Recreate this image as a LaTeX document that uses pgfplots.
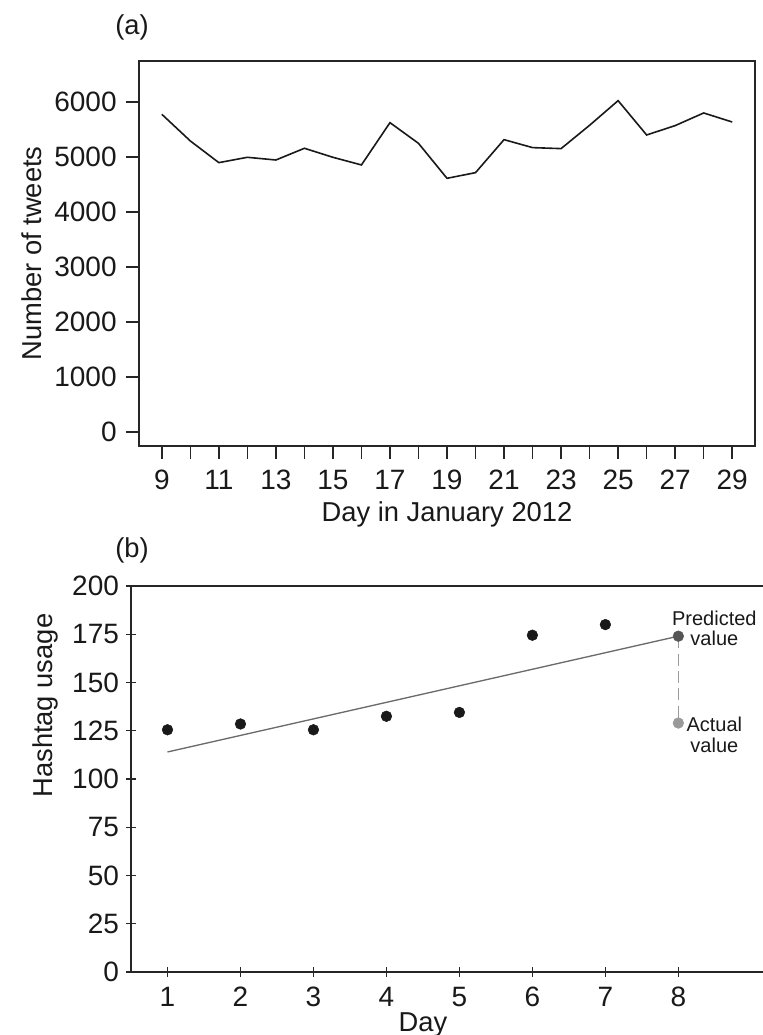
\documentclass[border=0pt]{standalone}
\usepackage{fontspec}
\setmainfont{Liberation Sans}
\usepackage{pgfplots}
\pgfplotsset{compat=1.18}
\definecolor{regline}{HTML}{6B6B6B}
\definecolor{predc}{HTML}{555555}
\definecolor{actc}{HTML}{9A9A9A}
\begin{document}
\begin{tikzpicture}
\path[use as bounding box] (0pt,0pt) rectangle (572.25pt,776.25pt);
\pgfplotsset{
  every axis/.append style={
    scale only axis,
    /pgf/number format/assume math mode=true,
    /pgf/number format/1000 sep={},
    tick label style={font=\fontsize{21}{24}\selectfont, text=black!90},
    label style={font=\fontsize{20.5}{24}\selectfont, text=black!90},
    axis line style={line width=1.1pt, black!85},
    tick style={line width=1.1pt, black!85},
    tick align=outside,
  }
}
% ---------------- panel (a)
\begin{axis}[
  at={(104.25pt,441.75pt)}, anchor=south west,
  width=462pt, height=288.75pt,
  xmin=8.2, xmax=29.8, ymin=-255, ymax=6745,
  xtick={9,...,29},
  xticklabels={9,,11,,13,,15,,17,,19,,21,,23,,25,,27,,29},
  ytick={0,1000,...,6000},
  xtick pos=bottom, ytick pos=left,
  major tick length=9.75pt,
  xticklabel style={yshift=-5pt},
  yticklabel style={xshift=-3.5pt},
  xlabel={Day in January 2012},
  ylabel={Number of tweets},
  xlabel style={at={(rel axis cs:0.5,-0.179)}, anchor=center},
  ylabel style={at={(rel axis cs:-0.1737,0.5)}, anchor=center},
]
\addplot[black!90, line width=1.2pt] coordinates {
(9,5776)(10,5291)(11,4897)(12,4994)(13,4945)(14,5158)(15,4994)(16,4855)
(17,5624)(18,5248)(19,4612)(20,4715)(21,5315)(22,5170)(23,5152)(24,5576)
(25,6024)(26,5400)(27,5570)(28,5800)(29,5636)};
\end{axis}
\node[font=\fontsize{20.5}{24}\selectfont, text=black!90] at (99pt,756pt) {(a)};
\node[font=\fontsize{20.5}{24}\selectfont, text=black!90] at (99pt,363.75pt) {(b)};
% ---------------- panel (b)
\begin{axis}[
  at={(98.25pt,47.25pt)}, anchor=south west,
  width=474pt, height=289.5pt,
  xmin=0.5, xmax=9.16, ymin=0, ymax=200,
  axis x line=bottom, axis y line=left,
  axis line style={-},
  xtick={1,...,8},
  ytick={0,25,...,200},
  major tick length=7pt,
  xticklabel style={yshift=-4.5pt},
  yticklabel style={xshift=-2pt},
  clip=false,
  xlabel={Day},
  ylabel={Hashtag usage},
  xlabel style={at={(rel axis cs:0.462,-0.1)}, anchor=north, inner sep=1pt},
  ylabel style={at={(rel axis cs:-0.136,0.69)}, anchor=center},
]
\draw[line width=1.1pt, black!85] (rel axis cs:0,1) -- (rel axis cs:1,1);
\addplot[regline, line width=1pt] coordinates {(1,114)(8,174)};
\addplot[actc, line width=1pt, dash pattern=on 9pt off 4pt] coordinates {(8,174)(8,129)};
\addplot[only marks, mark=*, mark size=4pt, black!90] coordinates {
(1,125.5)(2,128.5)(3,125.5)(4,132.5)(5,134.5)(6,174.5)(7,180)};
\addplot[only marks, mark=*, mark size=4pt, predc] coordinates {(8,174)};
\addplot[only marks, mark=*, mark size=4pt, actc] coordinates {(8,129)};
\node[font=\fontsize{15}{15.5}\selectfont, align=center, text=black!90] at (axis cs:8,174) [xshift=27pt, yshift=5.8pt] {Predicted\\value};
\node[font=\fontsize{15}{15.5}\selectfont, align=center, text=black!90] at (axis cs:8,129) [xshift=27pt, yshift=-8.9pt] {Actual\\value};
\end{axis}
\end{tikzpicture}
\end{document}
